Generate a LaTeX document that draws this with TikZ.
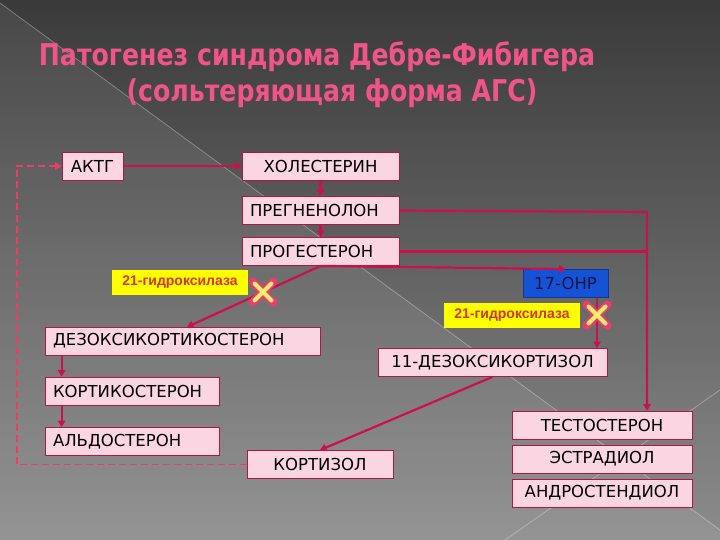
\documentclass[tikz,border=0pt]{standalone}
\usepackage{fontspec}
\setmainfont{DejaVu Sans}
\newfontfamily\enzfont{Liberation Sans}
\usetikzlibrary{arrows.meta,shapes.misc}
\definecolor{bgtop}{RGB}{58,58,58}
\definecolor{bgbot}{RGB}{140,140,140}
\definecolor{ttlpink}{RGB}{240,84,136}
\definecolor{arrline}{RGB}{204,16,76}
\definecolor{boxedge}{RGB}{176,22,72}
\definecolor{boxfill}{RGB}{250,214,226}
\definecolor{enzyel}{RGB}{255,255,0}
\definecolor{enztxt}{RGB}{214,52,22}
\definecolor{ohpblue}{RGB}{22,82,214}
\definecolor{ohptxt}{RGB}{18,22,70}
\definecolor{xglow}{RGB}{236,60,110}
\definecolor{xfill}{RGB}{255,236,110}

\begin{document}
\begin{tikzpicture}[x=1pt,y=-1pt,
 ttl/.style={text=ttlpink,font=\bfseries\fontsize{30}{34}\selectfont,inner sep=0pt,xscale=0.84},
 bx/.style={draw=boxedge,fill=boxfill,line width=0.8pt,minimum height=28pt,inner sep=0pt,font=\fontsize{16.5}{18}\selectfont},
 lbx/.style={bx,inner xsep=8pt,align=left},
 enz/.style={fill=enzyel,text=enztxt,minimum height=25pt,inner sep=0pt,font=\enzfont\bfseries\fontsize{14}{16}\selectfont},
 ohpbox/.style={bx,draw=ohpblue!70!black,fill=ohpblue,text=ohptxt},
 arr/.style={-{Triangle[length=6.5pt,width=7.5pt]},draw=arrline,line width=2.2pt},
 ln/.style={draw=arrline,line width=2.2pt},
 fb/.style={-{Triangle[length=6.5pt,width=7.5pt]},draw=xglow,line width=1.8pt,dashed,dash pattern=on 7pt off 4pt},
 xout/.style={cross out,draw=xglow,line width=8pt,line cap=round,minimum size=13pt,inner sep=0pt},
 xin/.style={cross out,draw=xfill,line width=4pt,line cap=round,minimum size=13pt,inner sep=0pt},
 bgline/.style={draw=white,opacity=0.3,line width=0.8pt}]
\useasboundingbox (0,0) rectangle (720,540);
\shade[top color=bgtop,bottom color=bgbot] (0,0) rectangle (720,540);
\fill[white,opacity=0.07] (0,3) -- (720,530) -- (720,540) -- (0,540) -- cycle;
\draw[bgline] (0,3) -- (720,530);
\draw[bgline] (505,540) -- (720,390);
\node[ttl] (t1) at (317,57) {Патогенез синдрома Дебре-Фибигера};
\node[ttl] (t2) at (332,93) {(сольтеряющая форма АГС)};
\node[bx,minimum width=61pt] (aktg) at (92.5,166) {АКТГ};
\node[bx,minimum width=157pt] (chol) at (320.5,166) {ХОЛЕСТЕРИН};
\node[lbx,text width=141pt] (preg) at (320.5,210.5) {ПРЕГНЕНОЛОН};
\node[lbx,text width=141pt] (prog) at (320.5,251.5) {ПРОГЕСТЕРОН};
\node[enz,minimum width=136pt] (enzA) at (180,282.5) {21-гидроксилаза};
\node[lbx,text width=259pt] (doc) at (182.5,341) {ДЕЗОКСИКОРТИКОСТЕРОН};
\node[lbx,text width=158pt] (cort) at (132,391) {КОРТИКОСТЕРОН};
\node[lbx,text width=158pt] (aldo) at (132,441.5) {АЛЬДОСТЕРОН};
\node[bx,minimum width=146pt] (kortizol) at (320,464.5) {КОРТИЗОЛ};
\node[ohpbox,minimum width=85pt] (ohp) at (565.5,283.5) {17-OHP};
\node[enz,minimum width=136pt] (enzB) at (512,315.5) {21-гидроксилаза};
\node[bx,minimum width=229pt] (doc11) at (492.5,362.5) {11-ДЕЗОКСИКОРТИЗОЛ};
\node[bx,minimum width=180pt] (test) at (602,425) {ТЕСТОСТЕРОН};
\node[bx,minimum width=180pt] (estr) at (602,459) {ЭСТРАДИОЛ};
\node[bx,minimum width=180pt] (andr) at (602,493) {АНДРОСТЕНДИОЛ};
\coordinate (jn) at (647,212);
\coordinate (docin) at (187,327);
\coordinate (ohpout) at (597,298);
\draw[arr] (aktg) -- (chol);
\draw[arr] (chol) -- (preg);
\draw[arr] (preg) -- (prog);
\draw[arr] (preg.east) -- (jn) -- (jn |- test.north);
\draw[ln] (prog.east) -- (jn |- prog.east);
\draw[arr] (prog.south) -- (ohp.north);
\draw[arr] (prog.south) -- (docin);
\draw[arr] (ohpout) -- (ohpout |- doc11.north);
\draw[arr] (doc11.south) -- (kortizol.north);
\draw[arr] ([xshift=17pt]doc.south west) -- ([xshift=17pt]cort.north west);
\draw[arr] ([xshift=17pt]cort.south west) -- ([xshift=17pt]aldo.north west);
\draw[fb] (kortizol.west) -- ++(-230,0) |- (aktg.west);
\node[xout] (xA) at (263,292) {};
\node[xin] (xAc) at (263,292) {};
\node[xout] (xB) at (597,315) {};
\node[xin] (xBc) at (597,315) {};
\end{tikzpicture}
\end{document}
